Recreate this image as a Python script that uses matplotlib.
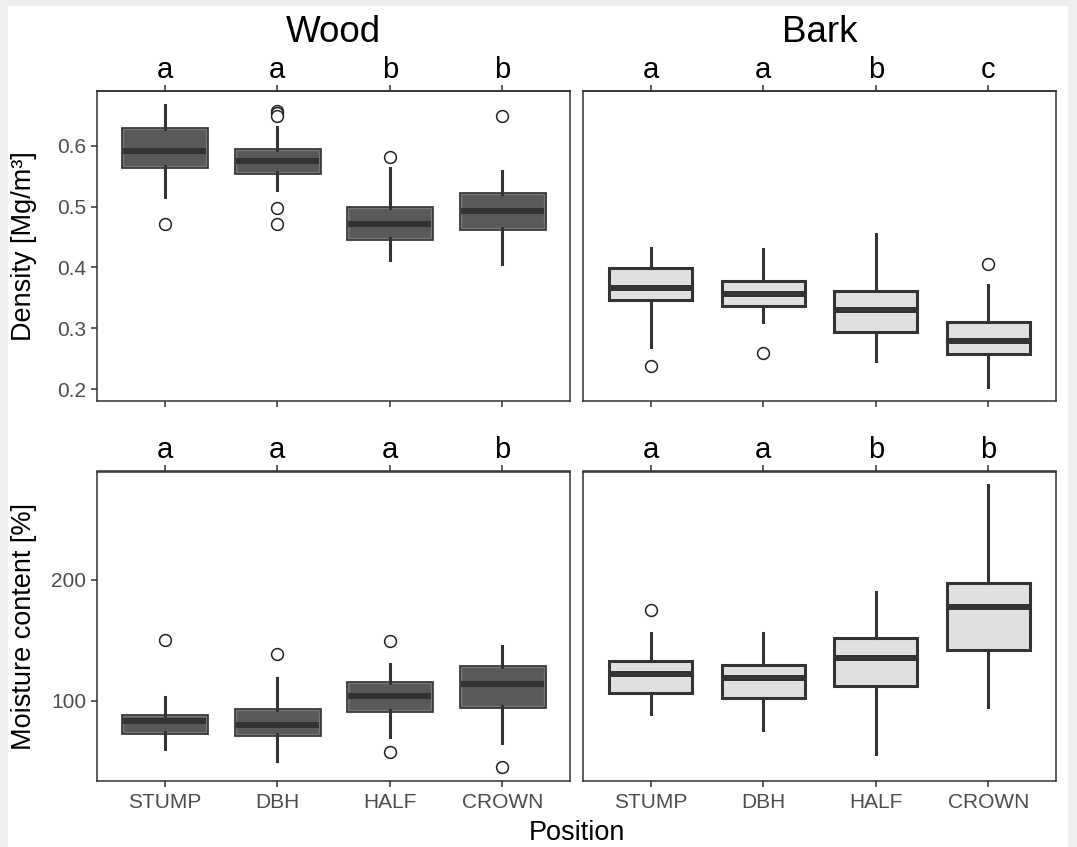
import matplotlib
matplotlib.use("Agg")
import matplotlib.pyplot as plt
import matplotlib.patheffects as pe
from matplotlib.patches import Rectangle

plt.rcParams['font.family'] = ['Liberation Sans', 'DejaVu Sans']

positions_lbl = ['STUMP', 'DBH', 'HALF', 'CROWN']

# wood density [Mg/m3]
wd_med = [0.591, 0.575, 0.471, 0.493]
wd_q1 = [0.567, 0.557, 0.448, 0.465]
wd_q3 = [0.627, 0.593, 0.497, 0.520]
wd_lo = [0.516, 0.527, 0.413, 0.405]
wd_hi = [0.667, 0.630, 0.563, 0.559]
wd_out = [[0.471], [0.657, 0.653, 0.649, 0.498, 0.471], [0.581], [0.648]]
wd_letters = ['a', 'a', 'b', 'b']

# bark density
bd_med = [0.367, 0.357, 0.331, 0.279]
bd_q1 = [0.346, 0.337, 0.294, 0.258]
bd_q3 = [0.399, 0.378, 0.361, 0.310]
bd_lo = [0.270, 0.310, 0.247, 0.204]
bd_hi = [0.432, 0.430, 0.455, 0.372]
bd_out = [[0.239], [0.260], [], [0.405]]
bd_letters = ['a', 'a', 'b', 'c']

# wood moisture content [%]
wm_med = [83.2, 80.1, 103.6, 113.8]
wm_q1 = [74.3, 72.7, 92.3, 95.6]
wm_q3 = [87.6, 92.3, 114.9, 128.2]
wm_lo = [59.7, 50.0, 70.2, 64.7]
wm_hi = [102.8, 118.5, 130.1, 145.3]
wm_out = [[150.3], [138.4], [149.7, 57.7], [44.8]]
wm_letters = ['a', 'a', 'a', 'b']

# bark moisture content
bm_med = [122.4, 119.1, 135.1, 177.4]
bm_q1 = [106.4, 102.5, 111.9, 141.8]
bm_q3 = [132.9, 129.6, 151.7, 197.5]
bm_lo = [89.0, 75.7, 55.6, 94.5]
bm_hi = [156.3, 156.3, 189.8, 278.7]
bm_out = [[174.9], [], [], []]
bm_letters = ['a', 'a', 'b', 'b']

W, H = 1077, 847
fig = plt.figure(figsize=(W / 100, H / 100), dpi=100)
fig.patch.set_facecolor('#EEEEEE')
fig.add_artist(Rectangle((7.5 / W, 0), (1068 - 7.5) / W, 1 - 6 / H,
                         transform=fig.transFigure, facecolor='white',
                         edgecolor='none', zorder=-10))

EDGE = '#333333'


def make_stats(med, q1, q3, lo, hi, out):
    return [dict(med=med[i], q1=q1[i], q3=q3[i], whislo=lo[i], whishi=hi[i],
                 fliers=out[i]) for i in range(len(med))]


def panel(px, stats, fill, ylim, yticks, letters, ylabels, xlabels, dark):
    x0, y0, x1, y1 = px
    ax = fig.add_axes([x0 / W, 1 - y1 / H, (x1 - x0) / W, (y1 - y0) / H])
    pos = list(range(1, len(stats) + 1))
    res = ax.bxp(stats, positions=pos, widths=0.74, patch_artist=True,
                 showcaps=False, manage_ticks=False,
                 boxprops=dict(facecolor=fill, edgecolor=EDGE, linewidth=2.2),
                 medianprops=dict(color=EDGE, linewidth=4.3, solid_capstyle='butt'),
                 whiskerprops=dict(color=EDGE, linewidth=2.2),
                 flierprops=dict(marker='o', markerfacecolor='white',
                                 markeredgecolor='#222222', markersize=8.5,
                                 markeredgewidth=1.1))
    if dark:
        for b in res['boxes']:
            b.set_path_effects([pe.Stroke(linewidth=3.4, foreground=EDGE),
                                pe.Stroke(linewidth=1.0, foreground='#777777')])
    ax.set_xlim(0.4, len(stats) + 0.6)
    ax.set_ylim(*ylim)
    ax.set_xticks(pos)
    ax.set_xticklabels(positions_lbl)
    ax.set_yticks(yticks)
    for s in ax.spines.values():
        s.set_color(EDGE)
        s.set_linewidth(1.1)
    ax.tick_params(axis='x', length=4.3, width=1.1, color=EDGE, labelsize=15,
                   labelcolor='#4D4D4D', pad=4.5, labelbottom=xlabels)
    ax.tick_params(axis='y', length=4.3, width=1.1, color=EDGE, labelsize=15,
                   labelcolor='#4D4D4D', pad=3.5, left=ylabels, labelleft=ylabels)
    top = ax.secondary_xaxis('top')
    top.set_xticks(pos, labels=letters)
    top.tick_params(length=4.3, width=1.1, color=EDGE, labelsize=21, pad=0.8,
                    labelcolor='black')
    top.spines['top'].set_color(EDGE)
    top.spines['top'].set_linewidth(1.1)
    return ax


dens_lim = (0.1808, 0.6898)
mc_lim = (33.7, 289.9)

panel((97, 91, 570, 401), make_stats(wd_med, wd_q1, wd_q3, wd_lo, wd_hi, wd_out),
      '#595959', dens_lim, [0.2, 0.3, 0.4, 0.5, 0.6], wd_letters, True, False, True)
panel((583, 91, 1056, 401), make_stats(bd_med, bd_q1, bd_q3, bd_lo, bd_hi, bd_out),
      '#E0E0E0', dens_lim, [0.2, 0.3, 0.4, 0.5, 0.6], bd_letters, False, False, False)
panel((97, 471.5, 570, 780.7), make_stats(wm_med, wm_q1, wm_q3, wm_lo, wm_hi, wm_out),
      '#595959', mc_lim, [100, 200], wm_letters, True, True, True)
panel((583, 471.5, 1056, 780.7), make_stats(bm_med, bm_q1, bm_q3, bm_lo, bm_hi, bm_out),
      '#E0E0E0', mc_lim, [100, 200], bm_letters, False, True, False)

fig.text(333.5 / W, 1 - 41.7 / H, 'Wood', ha='center', va='baseline', fontsize=26.5)
fig.text(819.5 / W, 1 - 41.7 / H, 'Bark', ha='center', va='baseline', fontsize=26.5)
fig.text(576.5 / W, 1 - 840 / H, 'Position', ha='center', va='baseline', fontsize=19.5)
fig.text(24 / W, 1 - 246 / H, 'Density [Mg/m³]', rotation=90, ha='center',
         va='center', fontsize=19.5)
fig.text(24 / W, 1 - 626 / H, 'Moisture content [%]', rotation=90, ha='center',
         va='center', fontsize=19.5)

fig.savefig('out.png', dpi=100, facecolor=fig.get_facecolor())
